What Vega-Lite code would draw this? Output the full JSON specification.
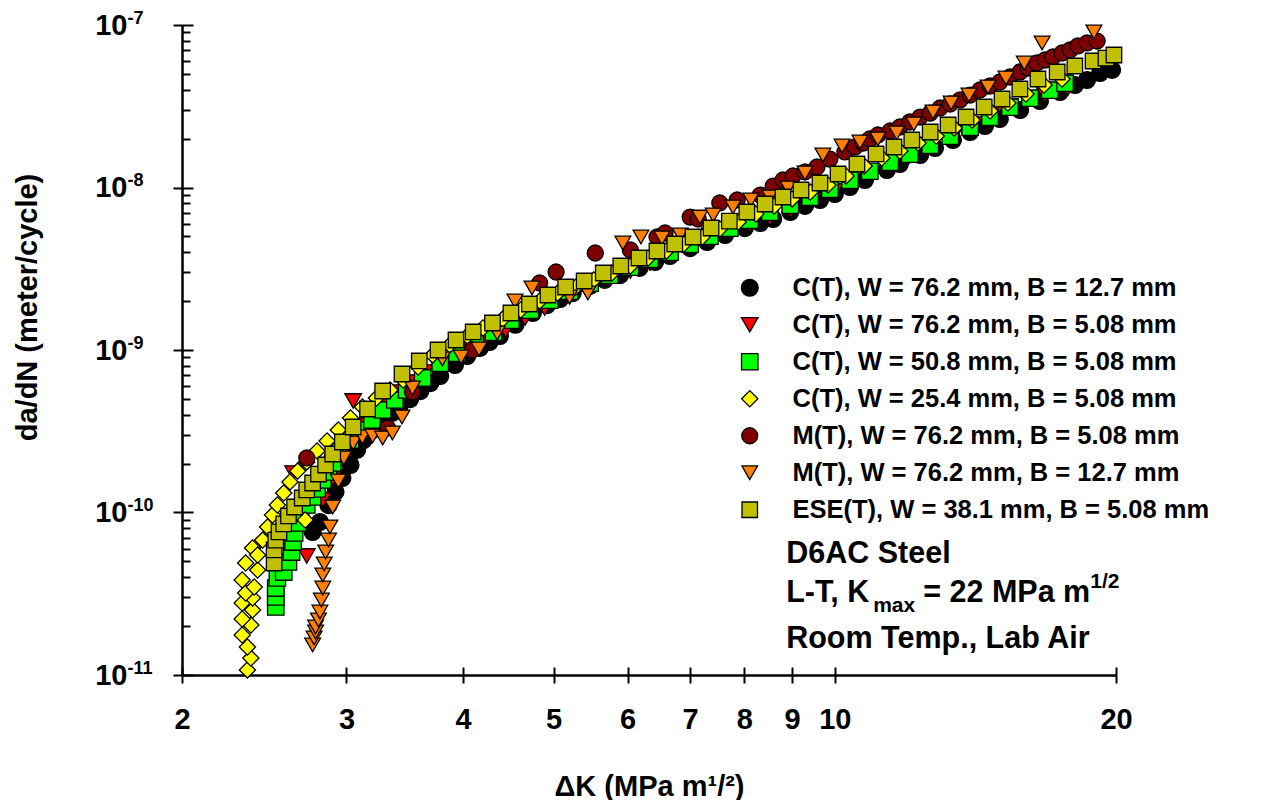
{
  "$schema": "https://vega.github.io/schema/vega-lite/v6.json",
  "width": 934,
  "height": 650,
  "autosize": {"type": "none"},
  "padding": {"left": 182, "top": 25, "right": 166, "bottom": 125},
  "background": "white",
  "config": {"view": {"stroke": null}, "font": "Liberation Sans"},
  "datasets": {
    "pts": [
      {"series": "C(T), W = 76.2 mm, B = 12.7 mm", "dK": 2.76, "dadN": 7.59e-11},
      {"series": "C(T), W = 76.2 mm, B = 12.7 mm", "dK": 2.81, "dadN": 8.74e-11},
      {"series": "C(T), W = 76.2 mm, B = 12.7 mm", "dK": 2.87, "dadN": 1.11e-10},
      {"series": "C(T), W = 76.2 mm, B = 12.7 mm", "dK": 2.92, "dadN": 1.34e-10},
      {"series": "C(T), W = 76.2 mm, B = 12.7 mm", "dK": 2.97, "dadN": 1.63e-10},
      {"series": "C(T), W = 76.2 mm, B = 12.7 mm", "dK": 3.03, "dadN": 1.96e-10},
      {"series": "C(T), W = 76.2 mm, B = 12.7 mm", "dK": 3.08, "dadN": 2.43e-10},
      {"series": "C(T), W = 76.2 mm, B = 12.7 mm", "dK": 3.13, "dadN": 2.79e-10},
      {"series": "C(T), W = 76.2 mm, B = 12.7 mm", "dK": 3.20, "dadN": 3.22e-10},
      {"series": "C(T), W = 76.2 mm, B = 12.7 mm", "dK": 3.28, "dadN": 3.61e-10},
      {"series": "C(T), W = 76.2 mm, B = 12.7 mm", "dK": 3.36, "dadN": 4.10e-10},
      {"series": "C(T), W = 76.2 mm, B = 12.7 mm", "dK": 3.42, "dadN": 4.52e-10},
      {"series": "C(T), W = 76.2 mm, B = 12.7 mm", "dK": 3.51, "dadN": 4.99e-10},
      {"series": "C(T), W = 76.2 mm, B = 12.7 mm", "dK": 3.60, "dadN": 5.59e-10},
      {"series": "C(T), W = 76.2 mm, B = 12.7 mm", "dK": 3.69, "dadN": 6.26e-10},
      {"series": "C(T), W = 76.2 mm, B = 12.7 mm", "dK": 3.78, "dadN": 6.92e-10},
      {"series": "C(T), W = 76.2 mm, B = 12.7 mm", "dK": 3.92, "dadN": 8.09e-10},
      {"series": "C(T), W = 76.2 mm, B = 12.7 mm", "dK": 4.04, "dadN": 9.19e-10},
      {"series": "C(T), W = 76.2 mm, B = 12.7 mm", "dK": 4.17, "dadN": 1.03e-9},
      {"series": "C(T), W = 76.2 mm, B = 12.7 mm", "dK": 4.27, "dadN": 1.12e-9},
      {"series": "C(T), W = 76.2 mm, B = 12.7 mm", "dK": 4.38, "dadN": 1.22e-9},
      {"series": "C(T), W = 76.2 mm, B = 12.7 mm", "dK": 4.55, "dadN": 1.43e-9},
      {"series": "C(T), W = 76.2 mm, B = 12.7 mm", "dK": 4.75, "dadN": 1.69e-9},
      {"series": "C(T), W = 76.2 mm, B = 12.7 mm", "dK": 4.92, "dadN": 1.89e-9},
      {"series": "C(T), W = 76.2 mm, B = 12.7 mm", "dK": 5.08, "dadN": 2.06e-9},
      {"series": "C(T), W = 76.2 mm, B = 12.7 mm", "dK": 5.24, "dadN": 2.24e-9},
      {"series": "C(T), W = 76.2 mm, B = 12.7 mm", "dK": 5.47, "dadN": 2.48e-9},
      {"series": "C(T), W = 76.2 mm, B = 12.7 mm", "dK": 5.67, "dadN": 2.70e-9},
      {"series": "C(T), W = 76.2 mm, B = 12.7 mm", "dK": 5.89, "dadN": 2.89e-9},
      {"series": "C(T), W = 76.2 mm, B = 12.7 mm", "dK": 6.18, "dadN": 3.20e-9},
      {"series": "C(T), W = 76.2 mm, B = 12.7 mm", "dK": 6.42, "dadN": 3.48e-9},
      {"series": "C(T), W = 76.2 mm, B = 12.7 mm", "dK": 6.66, "dadN": 3.79e-9},
      {"series": "C(T), W = 76.2 mm, B = 12.7 mm", "dK": 7.00, "dadN": 4.24e-9},
      {"series": "C(T), W = 76.2 mm, B = 12.7 mm", "dK": 7.30, "dadN": 4.62e-9},
      {"series": "C(T), W = 76.2 mm, B = 12.7 mm", "dK": 7.63, "dadN": 5.10e-9},
      {"series": "C(T), W = 76.2 mm, B = 12.7 mm", "dK": 8.01, "dadN": 5.63e-9},
      {"series": "C(T), W = 76.2 mm, B = 12.7 mm", "dK": 8.32, "dadN": 6.05e-9},
      {"series": "C(T), W = 76.2 mm, B = 12.7 mm", "dK": 8.59, "dadN": 6.40e-9},
      {"series": "C(T), W = 76.2 mm, B = 12.7 mm", "dK": 8.96, "dadN": 7.07e-9},
      {"series": "C(T), W = 76.2 mm, B = 12.7 mm", "dK": 9.29, "dadN": 7.70e-9},
      {"series": "C(T), W = 76.2 mm, B = 12.7 mm", "dK": 9.64, "dadN": 8.38e-9},
      {"series": "C(T), W = 76.2 mm, B = 12.7 mm", "dK": 10.0, "dadN": 9.12e-9},
      {"series": "C(T), W = 76.2 mm, B = 12.7 mm", "dK": 10.38, "dadN": 1.007e-8},
      {"series": "C(T), W = 76.2 mm, B = 12.7 mm", "dK": 10.77, "dadN": 1.112e-8},
      {"series": "C(T), W = 76.2 mm, B = 12.7 mm", "dK": 11.37, "dadN": 1.281e-8},
      {"series": "C(T), W = 76.2 mm, B = 12.7 mm", "dK": 11.74, "dadN": 1.395e-8},
      {"series": "C(T), W = 76.2 mm, B = 12.7 mm", "dK": 12.34, "dadN": 1.585e-8},
      {"series": "C(T), W = 76.2 mm, B = 12.7 mm", "dK": 12.80, "dadN": 1.750e-8},
      {"series": "C(T), W = 76.2 mm, B = 12.7 mm", "dK": 13.38, "dadN": 1.960e-8},
      {"series": "C(T), W = 76.2 mm, B = 12.7 mm", "dK": 13.96, "dadN": 2.195e-8},
      {"series": "C(T), W = 76.2 mm, B = 12.7 mm", "dK": 14.48, "dadN": 2.390e-8},
      {"series": "C(T), W = 76.2 mm, B = 12.7 mm", "dK": 15.02, "dadN": 2.640e-8},
      {"series": "C(T), W = 76.2 mm, B = 12.7 mm", "dK": 15.79, "dadN": 3.000e-8},
      {"series": "C(T), W = 76.2 mm, B = 12.7 mm", "dK": 16.58, "dadN": 3.407e-8},
      {"series": "C(T), W = 76.2 mm, B = 12.7 mm", "dK": 17.42, "dadN": 3.870e-8},
      {"series": "C(T), W = 76.2 mm, B = 12.7 mm", "dK": 18.08, "dadN": 4.274e-8},
      {"series": "C(T), W = 76.2 mm, B = 12.7 mm", "dK": 18.62, "dadN": 4.587e-8},
      {"series": "C(T), W = 76.2 mm, B = 12.7 mm", "dK": 19.23, "dadN": 5.066e-8},
      {"series": "C(T), W = 76.2 mm, B = 12.7 mm", "dK": 19.81, "dadN": 5.30e-8},

      {"series": "C(T), W = 76.2 mm, B = 5.08 mm", "dK": 2.72, "dadN": 5.40e-11},
      {"series": "C(T), W = 76.2 mm, B = 5.08 mm", "dK": 2.63, "dadN": 1.75e-10},
      {"series": "C(T), W = 76.2 mm, B = 5.08 mm", "dK": 2.83, "dadN": 1.194e-10},
      {"series": "C(T), W = 76.2 mm, B = 5.08 mm", "dK": 2.90, "dadN": 1.631e-10},
      {"series": "C(T), W = 76.2 mm, B = 5.08 mm", "dK": 2.97, "dadN": 2.227e-10},
      {"series": "C(T), W = 76.2 mm, B = 5.08 mm", "dK": 3.05, "dadN": 4.856e-10},
      {"series": "C(T), W = 76.2 mm, B = 5.08 mm", "dK": 3.14, "dadN": 3.455e-10},
      {"series": "C(T), W = 76.2 mm, B = 5.08 mm", "dK": 3.26, "dadN": 4.587e-10},
      {"series": "C(T), W = 76.2 mm, B = 5.08 mm", "dK": 3.38, "dadN": 5.514e-10},
      {"series": "C(T), W = 76.2 mm, B = 5.08 mm", "dK": 3.51, "dadN": 6.354e-10},
      {"series": "C(T), W = 76.2 mm, B = 5.08 mm", "dK": 3.64, "dadN": 7.32e-10},
      {"series": "C(T), W = 76.2 mm, B = 5.08 mm", "dK": 3.82, "dadN": 8.44e-10},
      {"series": "C(T), W = 76.2 mm, B = 5.08 mm", "dK": 4.02, "dadN": 1.0e-9},
      {"series": "C(T), W = 76.2 mm, B = 5.08 mm", "dK": 4.22, "dadN": 1.152e-9},
      {"series": "C(T), W = 76.2 mm, B = 5.08 mm", "dK": 4.44, "dadN": 1.327e-9},
      {"series": "C(T), W = 76.2 mm, B = 5.08 mm", "dK": 4.66, "dadN": 1.573e-9},
      {"series": "C(T), W = 76.2 mm, B = 5.08 mm", "dK": 4.89, "dadN": 1.813e-9},
      {"series": "C(T), W = 76.2 mm, B = 5.08 mm", "dK": 5.20, "dadN": 2.120e-9},
      {"series": "C(T), W = 76.2 mm, B = 5.08 mm", "dK": 5.47, "dadN": 2.407e-9},
      {"series": "C(T), W = 76.2 mm, B = 5.08 mm", "dK": 5.74, "dadN": 2.735e-9},
      {"series": "C(T), W = 76.2 mm, B = 5.08 mm", "dK": 6.04, "dadN": 3.064e-9},
      {"series": "C(T), W = 76.2 mm, B = 5.08 mm", "dK": 6.34, "dadN": 3.430e-9},
      {"series": "C(T), W = 76.2 mm, B = 5.08 mm", "dK": 6.66, "dadN": 3.842e-9},
      {"series": "C(T), W = 76.2 mm, B = 5.08 mm", "dK": 7.00, "dadN": 4.303e-9},
      {"series": "C(T), W = 76.2 mm, B = 5.08 mm", "dK": 7.32, "dadN": 4.752e-9},
      {"series": "C(T), W = 76.2 mm, B = 5.08 mm", "dK": 7.72, "dadN": 5.323e-9},
      {"series": "C(T), W = 76.2 mm, B = 5.08 mm", "dK": 8.11, "dadN": 5.88e-9},
      {"series": "C(T), W = 76.2 mm, B = 5.08 mm", "dK": 8.52, "dadN": 6.49e-9},
      {"series": "C(T), W = 76.2 mm, B = 5.08 mm", "dK": 8.96, "dadN": 7.27e-9},
      {"series": "C(T), W = 76.2 mm, B = 5.08 mm", "dK": 9.48, "dadN": 8.378e-9},
      {"series": "C(T), W = 76.2 mm, B = 5.08 mm", "dK": 10.0, "dadN": 9.52e-9},
      {"series": "C(T), W = 76.2 mm, B = 5.08 mm", "dK": 10.43, "dadN": 1.081e-8},
      {"series": "C(T), W = 76.2 mm, B = 5.08 mm", "dK": 10.90, "dadN": 1.228e-8},
      {"series": "C(T), W = 76.2 mm, B = 5.08 mm", "dK": 11.46, "dadN": 1.376e-8},
      {"series": "C(T), W = 76.2 mm, B = 5.08 mm", "dK": 12.03, "dadN": 1.562e-8},
      {"series": "C(T), W = 76.2 mm, B = 5.08 mm", "dK": 12.65, "dadN": 1.826e-8},
      {"series": "C(T), W = 76.2 mm, B = 5.08 mm", "dK": 13.45, "dadN": 2.165e-8},
      {"series": "C(T), W = 76.2 mm, B = 5.08 mm", "dK": 14.13, "dadN": 2.459e-8},
      {"series": "C(T), W = 76.2 mm, B = 5.08 mm", "dK": 14.84, "dadN": 2.873e-8},
      {"series": "C(T), W = 76.2 mm, B = 5.08 mm", "dK": 15.40, "dadN": 3.173e-8},
      {"series": "C(T), W = 76.2 mm, B = 5.08 mm", "dK": 16.06, "dadN": 3.504e-8},
      {"series": "C(T), W = 76.2 mm, B = 5.08 mm", "dK": 16.79, "dadN": 3.708e-8},
      {"series": "C(T), W = 76.2 mm, B = 5.08 mm", "dK": 17.77, "dadN": 4.096e-8},

      {"series": "C(T), W = 50.8 mm, B = 5.08 mm", "dK": 2.52, "dadN": 2.621e-11},
      {"series": "C(T), W = 50.8 mm, B = 5.08 mm", "dK": 2.52, "dadN": 3.020e-11},
      {"series": "C(T), W = 50.8 mm, B = 5.08 mm", "dK": 2.52, "dadN": 3.430e-11},
      {"series": "C(T), W = 50.8 mm, B = 5.08 mm", "dK": 2.53, "dadN": 3.953e-11},
      {"series": "C(T), W = 50.8 mm, B = 5.08 mm", "dK": 2.57, "dadN": 4.303e-11},
      {"series": "C(T), W = 50.8 mm, B = 5.08 mm", "dK": 2.60, "dadN": 4.959e-11},
      {"series": "C(T), W = 50.8 mm, B = 5.08 mm", "dK": 2.62, "dadN": 5.713e-11},
      {"series": "C(T), W = 50.8 mm, B = 5.08 mm", "dK": 2.63, "dadN": 6.58e-11},
      {"series": "C(T), W = 50.8 mm, B = 5.08 mm", "dK": 2.64, "dadN": 7.48e-11},
      {"series": "C(T), W = 50.8 mm, B = 5.08 mm", "dK": 2.66, "dadN": 8.62e-11},
      {"series": "C(T), W = 50.8 mm, B = 5.08 mm", "dK": 2.68, "dadN": 9.93e-11},
      {"series": "C(T), W = 50.8 mm, B = 5.08 mm", "dK": 2.72, "dadN": 1.112e-10},
      {"series": "C(T), W = 50.8 mm, B = 5.08 mm", "dK": 2.76, "dadN": 1.246e-10},
      {"series": "C(T), W = 50.8 mm, B = 5.08 mm", "dK": 2.79, "dadN": 1.395e-10},
      {"series": "C(T), W = 50.8 mm, B = 5.08 mm", "dK": 2.83, "dadN": 1.585e-10},
      {"series": "C(T), W = 50.8 mm, B = 5.08 mm", "dK": 2.87, "dadN": 1.775e-10},
      {"series": "C(T), W = 50.8 mm, B = 5.08 mm", "dK": 2.90, "dadN": 2.017e-10},
      {"series": "C(T), W = 50.8 mm, B = 5.08 mm", "dK": 2.95, "dadN": 2.357e-10},
      {"series": "C(T), W = 50.8 mm, B = 5.08 mm", "dK": 3.03, "dadN": 2.794e-10},
      {"series": "C(T), W = 50.8 mm, B = 5.08 mm", "dK": 3.10, "dadN": 3.219e-10},
      {"series": "C(T), W = 50.8 mm, B = 5.08 mm", "dK": 3.195, "dadN": 3.708e-10},
      {"series": "C(T), W = 50.8 mm, B = 5.08 mm", "dK": 3.28, "dadN": 4.274e-10},
      {"series": "C(T), W = 50.8 mm, B = 5.08 mm", "dK": 3.38, "dadN": 4.924e-10},
      {"series": "C(T), W = 50.8 mm, B = 5.08 mm", "dK": 3.48, "dadN": 5.673e-10},
      {"series": "C(T), W = 50.8 mm, B = 5.08 mm", "dK": 3.62, "dadN": 6.725e-10},
      {"series": "C(T), W = 50.8 mm, B = 5.08 mm", "dK": 3.78, "dadN": 8.29e-10},
      {"series": "C(T), W = 50.8 mm, B = 5.08 mm", "dK": 3.94, "dadN": 9.56e-10},
      {"series": "C(T), W = 50.8 mm, B = 5.08 mm", "dK": 4.12, "dadN": 1.101e-9},
      {"series": "C(T), W = 50.8 mm, B = 5.08 mm", "dK": 4.31, "dadN": 1.286e-9},
      {"series": "C(T), W = 50.8 mm, B = 5.08 mm", "dK": 4.50, "dadN": 1.525e-9},
      {"series": "C(T), W = 50.8 mm, B = 5.08 mm", "dK": 4.72, "dadN": 1.757e-9},
      {"series": "C(T), W = 50.8 mm, B = 5.08 mm", "dK": 4.95, "dadN": 2.024e-9},
      {"series": "C(T), W = 50.8 mm, B = 5.08 mm", "dK": 5.20, "dadN": 2.299e-9},
      {"series": "C(T), W = 50.8 mm, B = 5.08 mm", "dK": 5.47, "dadN": 2.575e-9},
      {"series": "C(T), W = 50.8 mm, B = 5.08 mm", "dK": 5.74, "dadN": 2.886e-9},
      {"series": "C(T), W = 50.8 mm, B = 5.08 mm", "dK": 6.04, "dadN": 3.231e-9},
      {"series": "C(T), W = 50.8 mm, B = 5.08 mm", "dK": 6.34, "dadN": 3.619e-9},
      {"series": "C(T), W = 50.8 mm, B = 5.08 mm", "dK": 6.66, "dadN": 3.996e-9},
      {"series": "C(T), W = 50.8 mm, B = 5.08 mm", "dK": 7.00, "dadN": 4.476e-9},
      {"series": "C(T), W = 50.8 mm, B = 5.08 mm", "dK": 7.35, "dadN": 5.014e-9},
      {"series": "C(T), W = 50.8 mm, B = 5.08 mm", "dK": 7.72, "dadN": 5.615e-9},
      {"series": "C(T), W = 50.8 mm, B = 5.08 mm", "dK": 8.11, "dadN": 6.29e-9},
      {"series": "C(T), W = 50.8 mm, B = 5.08 mm", "dK": 8.52, "dadN": 7.04e-9},
      {"series": "C(T), W = 50.8 mm, B = 5.08 mm", "dK": 8.96, "dadN": 7.78e-9},
      {"series": "C(T), W = 50.8 mm, B = 5.08 mm", "dK": 9.41, "dadN": 8.72e-9},
      {"series": "C(T), W = 50.8 mm, B = 5.08 mm", "dK": 9.88, "dadN": 9.76e-9},
      {"series": "C(T), W = 50.8 mm, B = 5.08 mm", "dK": 10.38, "dadN": 1.109e-8},
      {"series": "C(T), W = 50.8 mm, B = 5.08 mm", "dK": 10.90, "dadN": 1.259e-8},
      {"series": "C(T), W = 50.8 mm, B = 5.08 mm", "dK": 11.46, "dadN": 1.431e-8},
      {"series": "C(T), W = 50.8 mm, B = 5.08 mm", "dK": 12.03, "dadN": 1.602e-8},
      {"series": "C(T), W = 50.8 mm, B = 5.08 mm", "dK": 12.65, "dadN": 1.819e-8},
      {"series": "C(T), W = 50.8 mm, B = 5.08 mm", "dK": 13.29, "dadN": 2.068e-8},
      {"series": "C(T), W = 50.8 mm, B = 5.08 mm", "dK": 13.96, "dadN": 2.349e-8},
      {"series": "C(T), W = 50.8 mm, B = 5.08 mm", "dK": 14.66, "dadN": 2.707e-8},
      {"series": "C(T), W = 50.8 mm, B = 5.08 mm", "dK": 15.40, "dadN": 3.119e-8},
      {"series": "C(T), W = 50.8 mm, B = 5.08 mm", "dK": 16.18, "dadN": 3.543e-8},
      {"series": "C(T), W = 50.8 mm, B = 5.08 mm", "dK": 16.99, "dadN": 3.968e-8},
      {"series": "C(T), W = 50.8 mm, B = 5.08 mm", "dK": 17.64, "dadN": 4.383e-8},

      {"series": "C(T), W = 25.4 mm, B = 5.08 mm", "dK": 2.35, "dadN": 1.074e-11},
      {"series": "C(T), W = 25.4 mm, B = 5.08 mm", "dK": 2.37, "dadN": 1.272e-11},
      {"series": "C(T), W = 25.4 mm, B = 5.08 mm", "dK": 2.35, "dadN": 1.487e-11},
      {"series": "C(T), W = 25.4 mm, B = 5.08 mm", "dK": 2.32, "dadN": 1.763e-11},
      {"series": "C(T), W = 25.4 mm, B = 5.08 mm", "dK": 2.37, "dadN": 2.031e-11},
      {"series": "C(T), W = 25.4 mm, B = 5.08 mm", "dK": 2.32, "dadN": 2.211e-11},
      {"series": "C(T), W = 25.4 mm, B = 5.08 mm", "dK": 2.38, "dadN": 2.512e-11},
      {"series": "C(T), W = 25.4 mm, B = 5.08 mm", "dK": 2.32, "dadN": 2.774e-11},
      {"series": "C(T), W = 25.4 mm, B = 5.08 mm", "dK": 2.38, "dadN": 2.977e-11},
      {"series": "C(T), W = 25.4 mm, B = 5.08 mm", "dK": 2.34, "dadN": 3.196e-11},
      {"series": "C(T), W = 25.4 mm, B = 5.08 mm", "dK": 2.32, "dadN": 3.842e-11},
      {"series": "C(T), W = 25.4 mm, B = 5.08 mm", "dK": 2.39, "dadN": 3.479e-11},
      {"series": "C(T), W = 25.4 mm, B = 5.08 mm", "dK": 2.34, "dadN": 4.89e-11},
      {"series": "C(T), W = 25.4 mm, B = 5.08 mm", "dK": 2.41, "dadN": 4.428e-11},
      {"series": "C(T), W = 25.4 mm, B = 5.08 mm", "dK": 2.38, "dadN": 6.046e-11},
      {"series": "C(T), W = 25.4 mm, B = 5.08 mm", "dK": 2.41, "dadN": 5.477e-11},
      {"series": "C(T), W = 25.4 mm, B = 5.08 mm", "dK": 2.44, "dadN": 6.77e-11},
      {"series": "C(T), W = 25.4 mm, B = 5.08 mm", "dK": 2.47, "dadN": 8.15e-11},
      {"series": "C(T), W = 25.4 mm, B = 5.08 mm", "dK": 2.50, "dadN": 9.65e-11},
      {"series": "C(T), W = 25.4 mm, B = 5.08 mm", "dK": 2.53, "dadN": 1.112e-10},
      {"series": "C(T), W = 25.4 mm, B = 5.08 mm", "dK": 2.57, "dadN": 1.318e-10},
      {"series": "C(T), W = 25.4 mm, B = 5.08 mm", "dK": 2.61, "dadN": 1.541e-10},
      {"series": "C(T), W = 25.4 mm, B = 5.08 mm", "dK": 2.66, "dadN": 1.800e-10},
      {"series": "C(T), W = 25.4 mm, B = 5.08 mm", "dK": 2.71, "dadN": 8.99e-11},
      {"series": "C(T), W = 25.4 mm, B = 5.08 mm", "dK": 2.72, "dadN": 2.046e-10},
      {"series": "C(T), W = 25.4 mm, B = 5.08 mm", "dK": 2.79, "dadN": 2.390e-10},
      {"series": "C(T), W = 25.4 mm, B = 5.08 mm", "dK": 2.86, "dadN": 2.754e-10},
      {"series": "C(T), W = 25.4 mm, B = 5.08 mm", "dK": 2.94, "dadN": 3.219e-10},
      {"series": "C(T), W = 25.4 mm, B = 5.08 mm", "dK": 3.03, "dadN": 3.815e-10},
      {"series": "C(T), W = 25.4 mm, B = 5.08 mm", "dK": 3.12, "dadN": 4.459e-10},
      {"series": "C(T), W = 25.4 mm, B = 5.08 mm", "dK": 3.23, "dadN": 5.066e-10},
      {"series": "C(T), W = 25.4 mm, B = 5.08 mm", "dK": 3.34, "dadN": 5.673e-10},
      {"series": "C(T), W = 25.4 mm, B = 5.08 mm", "dK": 3.45, "dadN": 6.538e-10},
      {"series": "C(T), W = 25.4 mm, B = 5.08 mm", "dK": 3.58, "dadN": 7.86e-10},
      {"series": "C(T), W = 25.4 mm, B = 5.08 mm", "dK": 3.71, "dadN": 9.32e-10},
      {"series": "C(T), W = 25.4 mm, B = 5.08 mm", "dK": 3.87, "dadN": 1.074e-9},
      {"series": "C(T), W = 25.4 mm, B = 5.08 mm", "dK": 4.04, "dadN": 1.220e-9},
      {"series": "C(T), W = 25.4 mm, B = 5.08 mm", "dK": 4.20, "dadN": 1.366e-9},
      {"series": "C(T), W = 25.4 mm, B = 5.08 mm", "dK": 4.41, "dadN": 1.551e-9},
      {"series": "C(T), W = 25.4 mm, B = 5.08 mm", "dK": 4.61, "dadN": 1.763e-9},
      {"series": "C(T), W = 25.4 mm, B = 5.08 mm", "dK": 4.83, "dadN": 2.002e-9},
      {"series": "C(T), W = 25.4 mm, B = 5.08 mm", "dK": 5.05, "dadN": 2.243e-9},
      {"series": "C(T), W = 25.4 mm, B = 5.08 mm", "dK": 5.28, "dadN": 2.441e-9},
      {"series": "C(T), W = 25.4 mm, B = 5.08 mm", "dK": 5.52, "dadN": 2.697e-9},
      {"series": "C(T), W = 25.4 mm, B = 5.08 mm", "dK": 5.77, "dadN": 2.977e-9},
      {"series": "C(T), W = 25.4 mm, B = 5.08 mm", "dK": 6.04, "dadN": 3.288e-9},
      {"series": "C(T), W = 25.4 mm, B = 5.08 mm", "dK": 6.31, "dadN": 3.683e-9},
      {"series": "C(T), W = 25.4 mm, B = 5.08 mm", "dK": 6.60, "dadN": 4.067e-9},
      {"series": "C(T), W = 25.4 mm, B = 5.08 mm", "dK": 6.89, "dadN": 4.490e-9},
      {"series": "C(T), W = 25.4 mm, B = 5.08 mm", "dK": 7.21, "dadN": 4.959e-9},
      {"series": "C(T), W = 25.4 mm, B = 5.08 mm", "dK": 7.53, "dadN": 5.553e-9},
      {"series": "C(T), W = 25.4 mm, B = 5.08 mm", "dK": 7.88, "dadN": 6.133e-9},
      {"series": "C(T), W = 25.4 mm, B = 5.08 mm", "dK": 8.23, "dadN": 6.87e-9},
      {"series": "C(T), W = 25.4 mm, B = 5.08 mm", "dK": 8.61, "dadN": 7.695e-9},
      {"series": "C(T), W = 25.4 mm, B = 5.08 mm", "dK": 9.00, "dadN": 8.50e-9},
      {"series": "C(T), W = 25.4 mm, B = 5.08 mm", "dK": 9.41, "dadN": 9.38e-9},
      {"series": "C(T), W = 25.4 mm, B = 5.08 mm", "dK": 9.83, "dadN": 1.036e-8},
      {"series": "C(T), W = 25.4 mm, B = 5.08 mm", "dK": 10.28, "dadN": 1.177e-8},
      {"series": "C(T), W = 25.4 mm, B = 5.08 mm", "dK": 10.75, "dadN": 1.356e-8},
      {"series": "C(T), W = 25.4 mm, B = 5.08 mm", "dK": 11.23, "dadN": 1.519e-8},
      {"series": "C(T), W = 25.4 mm, B = 5.08 mm", "dK": 11.74, "dadN": 1.677e-8},
      {"series": "C(T), W = 25.4 mm, B = 5.08 mm", "dK": 12.28, "dadN": 1.878e-8},
      {"series": "C(T), W = 25.4 mm, B = 5.08 mm", "dK": 12.84, "dadN": 2.075e-8},
      {"series": "C(T), W = 25.4 mm, B = 5.08 mm", "dK": 13.42, "dadN": 2.324e-8},
      {"series": "C(T), W = 25.4 mm, B = 5.08 mm", "dK": 14.03, "dadN": 2.603e-8},
      {"series": "C(T), W = 25.4 mm, B = 5.08 mm", "dK": 14.66, "dadN": 2.957e-8},
      {"series": "C(T), W = 25.4 mm, B = 5.08 mm", "dK": 15.32, "dadN": 3.311e-8},
      {"series": "C(T), W = 25.4 mm, B = 5.08 mm", "dK": 16.02, "dadN": 3.762e-8},
      {"series": "C(T), W = 25.4 mm, B = 5.08 mm", "dK": 16.75, "dadN": 4.274e-8},
      {"series": "C(T), W = 25.4 mm, B = 5.08 mm", "dK": 17.51, "dadN": 4.653e-8},

      {"series": "M(T), W = 76.2 mm, B = 5.08 mm", "dK": 2.72, "dadN": 2.165e-10},
      {"series": "M(T), W = 76.2 mm, B = 5.08 mm", "dK": 3.32, "dadN": 3.311e-10},
      {"series": "M(T), W = 76.2 mm, B = 5.08 mm", "dK": 3.53, "dadN": 5.514e-10},
      {"series": "M(T), W = 76.2 mm, B = 5.08 mm", "dK": 4.09, "dadN": 1.0e-9},
      {"series": "M(T), W = 76.2 mm, B = 5.08 mm", "dK": 4.83, "dadN": 2.584e-9},
      {"series": "M(T), W = 76.2 mm, B = 5.08 mm", "dK": 5.03, "dadN": 3.020e-9},
      {"series": "M(T), W = 76.2 mm, B = 5.08 mm", "dK": 5.54, "dadN": 3.953e-9},
      {"series": "M(T), W = 76.2 mm, B = 5.08 mm", "dK": 6.04, "dadN": 4.125e-9},
      {"series": "M(T), W = 76.2 mm, B = 5.08 mm", "dK": 6.45, "dadN": 4.959e-9},
      {"series": "M(T), W = 76.2 mm, B = 5.08 mm", "dK": 6.58, "dadN": 5.248e-9},
      {"series": "M(T), W = 76.2 mm, B = 5.08 mm", "dK": 7.00, "dadN": 6.58e-9},
      {"series": "M(T), W = 76.2 mm, B = 5.08 mm", "dK": 7.14, "dadN": 6.40e-9},
      {"series": "M(T), W = 76.2 mm, B = 5.08 mm", "dK": 7.53, "dadN": 8.03e-9},
      {"series": "M(T), W = 76.2 mm, B = 5.08 mm", "dK": 7.86, "dadN": 8.378e-9},
      {"series": "M(T), W = 76.2 mm, B = 5.08 mm", "dK": 8.32, "dadN": 8.99e-9},
      {"series": "M(T), W = 76.2 mm, B = 5.08 mm", "dK": 8.59, "dadN": 1.021e-8},
      {"series": "M(T), W = 76.2 mm, B = 5.08 mm", "dK": 8.80, "dadN": 1.112e-8},
      {"series": "M(T), W = 76.2 mm, B = 5.08 mm", "dK": 9.02, "dadN": 1.177e-8},
      {"series": "M(T), W = 76.2 mm, B = 5.08 mm", "dK": 9.29, "dadN": 1.246e-8},
      {"series": "M(T), W = 76.2 mm, B = 5.08 mm", "dK": 9.57, "dadN": 1.337e-8},
      {"series": "M(T), W = 76.2 mm, B = 5.08 mm", "dK": 9.88, "dadN": 1.497e-8},
      {"series": "M(T), W = 76.2 mm, B = 5.08 mm", "dK": 10.25, "dadN": 1.654e-8},
      {"series": "M(T), W = 76.2 mm, B = 5.08 mm", "dK": 10.51, "dadN": 1.775e-8},
      {"series": "M(T), W = 76.2 mm, B = 5.08 mm", "dK": 10.72, "dadN": 1.878e-8},
      {"series": "M(T), W = 76.2 mm, B = 5.08 mm", "dK": 10.90, "dadN": 1.988e-8},
      {"series": "M(T), W = 76.2 mm, B = 5.08 mm", "dK": 11.12, "dadN": 2.104e-8},
      {"series": "M(T), W = 76.2 mm, B = 5.08 mm", "dK": 11.46, "dadN": 2.227e-8},
      {"series": "M(T), W = 76.2 mm, B = 5.08 mm", "dK": 11.74, "dadN": 2.357e-8},
      {"series": "M(T), W = 76.2 mm, B = 5.08 mm", "dK": 12.03, "dadN": 2.530e-8},
      {"series": "M(T), W = 76.2 mm, B = 5.08 mm", "dK": 12.34, "dadN": 2.715e-8},
      {"series": "M(T), W = 76.2 mm, B = 5.08 mm", "dK": 12.65, "dadN": 2.873e-8},
      {"series": "M(T), W = 76.2 mm, B = 5.08 mm", "dK": 12.96, "dadN": 3.085e-8},
      {"series": "M(T), W = 76.2 mm, B = 5.08 mm", "dK": 13.29, "dadN": 3.265e-8},
      {"series": "M(T), W = 76.2 mm, B = 5.08 mm", "dK": 13.62, "dadN": 3.459e-8},
      {"series": "M(T), W = 76.2 mm, B = 5.08 mm", "dK": 13.96, "dadN": 3.708e-8},
      {"series": "M(T), W = 76.2 mm, B = 5.08 mm", "dK": 14.30, "dadN": 3.981e-8},
      {"series": "M(T), W = 76.2 mm, B = 5.08 mm", "dK": 14.66, "dadN": 4.213e-8},
      {"series": "M(T), W = 76.2 mm, B = 5.08 mm", "dK": 15.02, "dadN": 4.459e-8},
      {"series": "M(T), W = 76.2 mm, B = 5.08 mm", "dK": 15.40, "dadN": 4.786e-8},
      {"series": "M(T), W = 76.2 mm, B = 5.08 mm", "dK": 15.79, "dadN": 5.138e-8},
      {"series": "M(T), W = 76.2 mm, B = 5.08 mm", "dK": 16.10, "dadN": 5.438e-8},
      {"series": "M(T), W = 76.2 mm, B = 5.08 mm", "dK": 16.46, "dadN": 5.84e-8},
      {"series": "M(T), W = 76.2 mm, B = 5.08 mm", "dK": 16.79, "dadN": 6.09e-8},
      {"series": "M(T), W = 76.2 mm, B = 5.08 mm", "dK": 17.12, "dadN": 6.354e-8},
      {"series": "M(T), W = 76.2 mm, B = 5.08 mm", "dK": 17.51, "dadN": 6.725e-8},
      {"series": "M(T), W = 76.2 mm, B = 5.08 mm", "dK": 17.86, "dadN": 7.02e-8},
      {"series": "M(T), W = 76.2 mm, B = 5.08 mm", "dK": 18.21, "dadN": 7.43e-8},
      {"series": "M(T), W = 76.2 mm, B = 5.08 mm", "dK": 18.62, "dadN": 7.75e-8},
      {"series": "M(T), W = 76.2 mm, B = 5.08 mm", "dK": 19.09, "dadN": 7.97e-8},

      {"series": "M(T), W = 76.2 mm, B = 12.7 mm", "dK": 2.76, "dadN": 1.530e-11},
      {"series": "M(T), W = 76.2 mm, B = 12.7 mm", "dK": 2.77, "dadN": 1.689e-11},
      {"series": "M(T), W = 76.2 mm, B = 12.7 mm", "dK": 2.78, "dadN": 1.839e-11},
      {"series": "M(T), W = 76.2 mm, B = 12.7 mm", "dK": 2.78, "dadN": 1.974e-11},
      {"series": "M(T), W = 76.2 mm, B = 12.7 mm", "dK": 2.80, "dadN": 2.180e-11},
      {"series": "M(T), W = 76.2 mm, B = 12.7 mm", "dK": 2.81, "dadN": 2.441e-11},
      {"series": "M(T), W = 76.2 mm, B = 12.7 mm", "dK": 2.82, "dadN": 2.893e-11},
      {"series": "M(T), W = 76.2 mm, B = 12.7 mm", "dK": 2.83, "dadN": 3.430e-11},
      {"series": "M(T), W = 76.2 mm, B = 12.7 mm", "dK": 2.83, "dadN": 4.125e-11},
      {"series": "M(T), W = 76.2 mm, B = 12.7 mm", "dK": 2.84, "dadN": 4.823e-11},
      {"series": "M(T), W = 76.2 mm, B = 12.7 mm", "dK": 2.85, "dadN": 5.713e-11},
      {"series": "M(T), W = 76.2 mm, B = 12.7 mm", "dK": 2.87, "dadN": 6.77e-11},
      {"series": "M(T), W = 76.2 mm, B = 12.7 mm", "dK": 2.88, "dadN": 8.15e-11},
      {"series": "M(T), W = 76.2 mm, B = 12.7 mm", "dK": 2.90, "dadN": 1.081e-10},
      {"series": "M(T), W = 76.2 mm, B = 12.7 mm", "dK": 2.94, "dadN": 1.562e-10},
      {"series": "M(T), W = 76.2 mm, B = 12.7 mm", "dK": 2.98, "dadN": 2.165e-10},
      {"series": "M(T), W = 76.2 mm, B = 12.7 mm", "dK": 3.05, "dadN": 2.677e-10},
      {"series": "M(T), W = 76.2 mm, B = 12.7 mm", "dK": 3.12, "dadN": 2.915e-10},
      {"series": "M(T), W = 76.2 mm, B = 12.7 mm", "dK": 3.20, "dadN": 2.957e-10},
      {"series": "M(T), W = 76.2 mm, B = 12.7 mm", "dK": 3.28, "dadN": 2.873e-10},
      {"series": "M(T), W = 76.2 mm, B = 12.7 mm", "dK": 3.36, "dadN": 3.085e-10},
      {"series": "M(T), W = 76.2 mm, B = 12.7 mm", "dK": 3.44, "dadN": 3.870e-10},
      {"series": "M(T), W = 76.2 mm, B = 12.7 mm", "dK": 3.53, "dadN": 5.84e-10},
      {"series": "M(T), W = 76.2 mm, B = 12.7 mm", "dK": 3.80, "dadN": 8.80e-10},
      {"series": "M(T), W = 76.2 mm, B = 12.7 mm", "dK": 3.98, "dadN": 9.06e-10},
      {"series": "M(T), W = 76.2 mm, B = 12.7 mm", "dK": 4.16, "dadN": 1.014e-9},
      {"series": "M(T), W = 76.2 mm, B = 12.7 mm", "dK": 4.35, "dadN": 1.272e-9},
      {"series": "M(T), W = 76.2 mm, B = 12.7 mm", "dK": 4.545, "dadN": 2.002e-9},
      {"series": "M(T), W = 76.2 mm, B = 12.7 mm", "dK": 4.74, "dadN": 2.407e-9},
      {"series": "M(T), W = 76.2 mm, B = 12.7 mm", "dK": 5.20, "dadN": 2.120e-9},
      {"series": "M(T), W = 76.2 mm, B = 12.7 mm", "dK": 5.44, "dadN": 2.243e-9},
      {"series": "M(T), W = 76.2 mm, B = 12.7 mm", "dK": 5.93, "dadN": 4.555e-9},
      {"series": "M(T), W = 76.2 mm, B = 12.7 mm", "dK": 6.20, "dadN": 4.959e-9},
      {"series": "M(T), W = 76.2 mm, B = 12.7 mm", "dK": 6.53, "dadN": 4.89e-9},
      {"series": "M(T), W = 76.2 mm, B = 12.7 mm", "dK": 6.83, "dadN": 5.101e-9},
      {"series": "M(T), W = 76.2 mm, B = 12.7 mm", "dK": 7.17, "dadN": 6.58e-9},
      {"series": "M(T), W = 76.2 mm, B = 12.7 mm", "dK": 7.41, "dadN": 6.77e-9},
      {"series": "M(T), W = 76.2 mm, B = 12.7 mm", "dK": 7.78, "dadN": 7.586e-9},
      {"series": "M(T), W = 76.2 mm, B = 12.7 mm", "dK": 8.13, "dadN": 8.378e-9},
      {"series": "M(T), W = 76.2 mm, B = 12.7 mm", "dK": 8.52, "dadN": 8.74e-9},
      {"series": "M(T), W = 76.2 mm, B = 12.7 mm", "dK": 8.91, "dadN": 9.93e-9},
      {"series": "M(T), W = 76.2 mm, B = 12.7 mm", "dK": 9.29, "dadN": 1.228e-8},
      {"series": "M(T), W = 76.2 mm, B = 12.7 mm", "dK": 9.71, "dadN": 1.585e-8},
      {"series": "M(T), W = 76.2 mm, B = 12.7 mm", "dK": 10.18, "dadN": 1.800e-8},
      {"series": "M(T), W = 76.2 mm, B = 12.7 mm", "dK": 10.64, "dadN": 1.905e-8},
      {"series": "M(T), W = 76.2 mm, B = 12.7 mm", "dK": 11.12, "dadN": 1.988e-8},
      {"series": "M(T), W = 76.2 mm, B = 12.7 mm", "dK": 11.65, "dadN": 2.165e-8},
      {"series": "M(T), W = 76.2 mm, B = 12.7 mm", "dK": 12.15, "dadN": 2.459e-8},
      {"series": "M(T), W = 76.2 mm, B = 12.7 mm", "dK": 12.74, "dadN": 2.915e-8},
      {"series": "M(T), W = 76.2 mm, B = 12.7 mm", "dK": 13.32, "dadN": 3.311e-8},
      {"series": "M(T), W = 76.2 mm, B = 12.7 mm", "dK": 13.92, "dadN": 3.708e-8},
      {"series": "M(T), W = 76.2 mm, B = 12.7 mm", "dK": 14.59, "dadN": 4.154e-8},
      {"series": "M(T), W = 76.2 mm, B = 12.7 mm", "dK": 15.25, "dadN": 4.718e-8},
      {"series": "M(T), W = 76.2 mm, B = 12.7 mm", "dK": 15.95, "dadN": 5.84e-8},
      {"series": "M(T), W = 76.2 mm, B = 12.7 mm", "dK": 16.67, "dadN": 7.75e-8},
      {"series": "M(T), W = 76.2 mm, B = 12.7 mm", "dK": 18.94, "dadN": 9.06e-8},

      {"series": "ESE(T), W = 38.1 mm, B = 5.08 mm", "dK": 2.51, "dadN": 4.89e-11},
      {"series": "ESE(T), W = 38.1 mm, B = 5.08 mm", "dK": 2.51, "dadN": 5.88e-11},
      {"series": "ESE(T), W = 38.1 mm, B = 5.08 mm", "dK": 2.52, "dadN": 6.77e-11},
      {"series": "ESE(T), W = 38.1 mm, B = 5.08 mm", "dK": 2.54, "dadN": 7.59e-11},
      {"series": "ESE(T), W = 38.1 mm, B = 5.08 mm", "dK": 2.57, "dadN": 8.50e-11},
      {"series": "ESE(T), W = 38.1 mm, B = 5.08 mm", "dK": 2.60, "dadN": 9.52e-11},
      {"series": "ESE(T), W = 38.1 mm, B = 5.08 mm", "dK": 2.64, "dadN": 1.081e-10},
      {"series": "ESE(T), W = 38.1 mm, B = 5.08 mm", "dK": 2.69, "dadN": 1.228e-10},
      {"series": "ESE(T), W = 38.1 mm, B = 5.08 mm", "dK": 2.72, "dadN": 1.376e-10},
      {"series": "ESE(T), W = 38.1 mm, B = 5.08 mm", "dK": 2.76, "dadN": 1.519e-10},
      {"series": "ESE(T), W = 38.1 mm, B = 5.08 mm", "dK": 2.80, "dadN": 1.725e-10},
      {"series": "ESE(T), W = 38.1 mm, B = 5.08 mm", "dK": 2.85, "dadN": 1.960e-10},
      {"series": "ESE(T), W = 38.1 mm, B = 5.08 mm", "dK": 2.90, "dadN": 2.291e-10},
      {"series": "ESE(T), W = 38.1 mm, B = 5.08 mm", "dK": 2.97, "dadN": 2.715e-10},
      {"series": "ESE(T), W = 38.1 mm, B = 5.08 mm", "dK": 3.05, "dadN": 3.359e-10},
      {"series": "ESE(T), W = 38.1 mm, B = 5.08 mm", "dK": 3.16, "dadN": 4.335e-10},
      {"series": "ESE(T), W = 38.1 mm, B = 5.08 mm", "dK": 3.28, "dadN": 5.593e-10},
      {"series": "ESE(T), W = 38.1 mm, B = 5.08 mm", "dK": 3.44, "dadN": 7.117e-10},
      {"series": "ESE(T), W = 38.1 mm, B = 5.08 mm", "dK": 3.59, "dadN": 8.56e-10},
      {"series": "ESE(T), W = 38.1 mm, B = 5.08 mm", "dK": 3.76, "dadN": 1.0e-9},
      {"series": "ESE(T), W = 38.1 mm, B = 5.08 mm", "dK": 3.93, "dadN": 1.152e-9},
      {"series": "ESE(T), W = 38.1 mm, B = 5.08 mm", "dK": 4.10, "dadN": 1.291e-9},
      {"series": "ESE(T), W = 38.1 mm, B = 5.08 mm", "dK": 4.30, "dadN": 1.466e-9},
      {"series": "ESE(T), W = 38.1 mm, B = 5.08 mm", "dK": 4.50, "dadN": 1.689e-9},
      {"series": "ESE(T), W = 38.1 mm, B = 5.08 mm", "dK": 4.71, "dadN": 1.919e-9},
      {"series": "ESE(T), W = 38.1 mm, B = 5.08 mm", "dK": 4.93, "dadN": 2.180e-9},
      {"series": "ESE(T), W = 38.1 mm, B = 5.08 mm", "dK": 5.15, "dadN": 2.441e-9},
      {"series": "ESE(T), W = 38.1 mm, B = 5.08 mm", "dK": 5.39, "dadN": 2.658e-9},
      {"series": "ESE(T), W = 38.1 mm, B = 5.08 mm", "dK": 5.65, "dadN": 2.977e-9},
      {"series": "ESE(T), W = 38.1 mm, B = 5.08 mm", "dK": 5.90, "dadN": 3.288e-9},
      {"series": "ESE(T), W = 38.1 mm, B = 5.08 mm", "dK": 6.17, "dadN": 3.683e-9},
      {"series": "ESE(T), W = 38.1 mm, B = 5.08 mm", "dK": 6.45, "dadN": 4.067e-9},
      {"series": "ESE(T), W = 38.1 mm, B = 5.08 mm", "dK": 6.74, "dadN": 4.490e-9},
      {"series": "ESE(T), W = 38.1 mm, B = 5.08 mm", "dK": 7.05, "dadN": 4.959e-9},
      {"series": "ESE(T), W = 38.1 mm, B = 5.08 mm", "dK": 7.37, "dadN": 5.634e-9},
      {"series": "ESE(T), W = 38.1 mm, B = 5.08 mm", "dK": 7.71, "dadN": 6.218e-9},
      {"series": "ESE(T), W = 38.1 mm, B = 5.08 mm", "dK": 8.05, "dadN": 7.067e-9},
      {"series": "ESE(T), W = 38.1 mm, B = 5.08 mm", "dK": 8.42, "dadN": 7.916e-9},
      {"series": "ESE(T), W = 38.1 mm, B = 5.08 mm", "dK": 8.80, "dadN": 8.74e-9},
      {"series": "ESE(T), W = 38.1 mm, B = 5.08 mm", "dK": 9.20, "dadN": 9.65e-9},
      {"series": "ESE(T), W = 38.1 mm, B = 5.08 mm", "dK": 9.64, "dadN": 1.066e-8},
      {"series": "ESE(T), W = 38.1 mm, B = 5.08 mm", "dK": 10.08, "dadN": 1.211e-8},
      {"series": "ESE(T), W = 38.1 mm, B = 5.08 mm", "dK": 10.56, "dadN": 1.395e-8},
      {"series": "ESE(T), W = 38.1 mm, B = 5.08 mm", "dK": 11.07, "dadN": 1.608e-8},
      {"series": "ESE(T), W = 38.1 mm, B = 5.08 mm", "dK": 11.57, "dadN": 1.775e-8},
      {"series": "ESE(T), W = 38.1 mm, B = 5.08 mm", "dK": 12.09, "dadN": 1.960e-8},
      {"series": "ESE(T), W = 38.1 mm, B = 5.08 mm", "dK": 12.65, "dadN": 2.195e-8},
      {"series": "ESE(T), W = 38.1 mm, B = 5.08 mm", "dK": 13.22, "dadN": 2.425e-8},
      {"series": "ESE(T), W = 38.1 mm, B = 5.08 mm", "dK": 13.82, "dadN": 2.715e-8},
      {"series": "ESE(T), W = 38.1 mm, B = 5.08 mm", "dK": 14.45, "dadN": 3.129e-8},
      {"series": "ESE(T), W = 38.1 mm, B = 5.08 mm", "dK": 15.10, "dadN": 3.504e-8},
      {"series": "ESE(T), W = 38.1 mm, B = 5.08 mm", "dK": 15.78, "dadN": 4.038e-8},
      {"series": "ESE(T), W = 38.1 mm, B = 5.08 mm", "dK": 16.50, "dadN": 4.653e-8},
      {"series": "ESE(T), W = 38.1 mm, B = 5.08 mm", "dK": 17.30, "dadN": 5.138e-8},
      {"series": "ESE(T), W = 38.1 mm, B = 5.08 mm", "dK": 18.07, "dadN": 5.593e-8},
      {"series": "ESE(T), W = 38.1 mm, B = 5.08 mm", "dK": 18.90, "dadN": 6.004e-8},
      {"series": "ESE(T), W = 38.1 mm, B = 5.08 mm", "dK": 19.51, "dadN": 6.262e-8},
      {"series": "ESE(T), W = 38.1 mm, B = 5.08 mm", "dK": 19.90, "dadN": 6.538e-8}
    ]
  },
  "layer": [
    {
      "data": {"name": "pts"},
      "mark": {"type": "point", "filled": true, "opacity": 1, "stroke": "black", "strokeWidth": 1.3},
      "encoding": {
        "x": {
          "field": "dK", "type": "quantitative",
          "scale": {"type": "log", "domain": [2, 20], "nice": false},
          "axis": {
            "orient": "bottom",
            "title": "ΔK (MPa m¹/²)",
            "values": [2, 3, 4, 5, 6, 7, 8, 9, 10, 20],
            "labelExpr": "format(datum.value, 'd')",
            "labelFont": "Liberation Sans", "labelFontSize": 29, "labelFontWeight": "bold", "labelColor": "black",
            "labelBaseline": "alphabetic", "labelPadding": 45, "labelFlush": false, "labelOverlap": false,
            "tickSize": 8, "tickWidth": 2, "tickColor": "black",
            "domainColor": "black", "domainWidth": 2.5, "grid": false,
            "titleFont": "Liberation Sans", "titleFontSize": 29, "titleFontWeight": "bold", "titleColor": "black",
            "titleX": 467, "titleY": 120, "titleBaseline": "alphabetic", "titleAlign": "center"
          }
        },
        "y": {
          "field": "dadN", "type": "quantitative",
          "scale": {"type": "log", "domain": [1e-11, 1e-7], "nice": false},
          "axis": {
            "orient": "left",
            "title": "da/dN (meter/cycle)",
            "values": [1e-11, 2e-11, 3e-11, 4e-11, 5e-11, 6e-11, 7e-11, 8e-11, 9e-11, 1e-10, 2e-10, 3e-10, 4e-10, 5e-10, 6e-10, 7e-10, 8e-10, 9e-10, 1e-9, 2e-9, 3e-9, 4e-9, 5e-9, 6e-9, 7e-9, 8e-9, 9e-9, 1e-8, 2e-8, 3e-8, 4e-8, 5e-8, 6e-8, 7e-8, 8e-8, 9e-8, 1e-7],
            "labelExpr": "indexof([1e-11, 1e-10, 1e-9, 1e-8, 1e-7], datum.value) >= 0 ? '10' : ''",
            "labelFont": "Liberation Sans", "labelFontSize": 29, "labelFontWeight": "bold", "labelColor": "black",
            "labelBaseline": "middle", "labelPadding": 46, "labelOverlap": false,
            "tickSize": 9, "tickWidth": 2, "tickColor": "black",
            "tickOpacity": {"condition": {"test": "indexof([1e-11, 1e-10, 1e-9, 1e-8, 1e-7], datum.value) >= 0", "value": 1}, "value": 0},
            "domainColor": "black", "domainWidth": 2.5, "grid": false,
            "titleFont": "Liberation Sans", "titleFontSize": 29, "titleFontWeight": "bold", "titleColor": "black",
            "titleX": -155, "titleY": 282, "titleAngle": 270, "titleAlign": "center", "titleBaseline": "middle"
          }
        },
        "size": {
          "field": "series", "type": "nominal",
          "scale": {
            "domain": ["C(T), W = 76.2 mm, B = 12.7 mm", "C(T), W = 76.2 mm, B = 5.08 mm", "C(T), W = 50.8 mm, B = 5.08 mm", "C(T), W = 25.4 mm, B = 5.08 mm", "M(T), W = 76.2 mm, B = 5.08 mm", "M(T), W = 76.2 mm, B = 12.7 mm", "ESE(T), W = 38.1 mm, B = 5.08 mm"],
            "range": [285, 240, 215, 330, 260, 250, 225]
          },
          "legend": {
            "title": null, "orient": "none", "legendX": 555, "legendY": 250, "padding": 0,
            "labelFont": "Liberation Sans", "labelFontSize": 25.5, "labelFontWeight": "bold", "labelColor": "black",
            "labelOffset": 30, "labelLimit": 700, "rowPadding": 10,
            "symbolStrokeColor": "black", "symbolStrokeWidth": 1.3, "symbolOpacity": 1,
            "encode": {"symbols": {"update": {"stroke": {"value": "black"}, "strokeWidth": {"value": 1.3}, "opacity": {"value": 1}}}}
          }
        },
        "shape": {
          "field": "series", "type": "nominal",
          "scale": {
            "domain": ["C(T), W = 76.2 mm, B = 12.7 mm", "C(T), W = 76.2 mm, B = 5.08 mm", "C(T), W = 50.8 mm, B = 5.08 mm", "C(T), W = 25.4 mm, B = 5.08 mm", "M(T), W = 76.2 mm, B = 5.08 mm", "M(T), W = 76.2 mm, B = 12.7 mm", "ESE(T), W = 38.1 mm, B = 5.08 mm"],
            "range": ["circle", "triangle-down", "square", "diamond", "circle", "triangle-down", "square"]
          },
          "legend": {
            "title": null, "orient": "none", "legendX": 555, "legendY": 250, "padding": 0,
            "labelFont": "Liberation Sans", "labelFontSize": 25.5, "labelFontWeight": "bold", "labelColor": "black",
            "labelOffset": 30, "labelLimit": 700, "rowPadding": 10,
            "symbolStrokeColor": "black", "symbolStrokeWidth": 1.3, "symbolOpacity": 1,
            "encode": {"symbols": {"update": {"stroke": {"value": "black"}, "strokeWidth": {"value": 1.3}, "opacity": {"value": 1}}}}
          }
        },
        "fill": {
          "field": "series", "type": "nominal",
          "scale": {
            "domain": ["C(T), W = 76.2 mm, B = 12.7 mm", "C(T), W = 76.2 mm, B = 5.08 mm", "C(T), W = 50.8 mm, B = 5.08 mm", "C(T), W = 25.4 mm, B = 5.08 mm", "M(T), W = 76.2 mm, B = 5.08 mm", "M(T), W = 76.2 mm, B = 12.7 mm", "ESE(T), W = 38.1 mm, B = 5.08 mm"],
            "range": ["#000000", "#FF0000", "#00FF00", "#FFFF00", "#800000", "#FF8000", "#C0C000"]
          },
          "legend": {
            "title": null, "orient": "none", "legendX": 555, "legendY": 250, "padding": 0,
            "labelFont": "Liberation Sans", "labelFontSize": 25.5, "labelFontWeight": "bold", "labelColor": "black",
            "labelOffset": 30, "labelLimit": 700, "rowPadding": 10,
            "symbolStrokeColor": "black", "symbolStrokeWidth": 1.3, "symbolOpacity": 1,
            "encode": {"symbols": {"update": {"stroke": {"value": "black"}, "strokeWidth": {"value": 1.3}, "opacity": {"value": 1}}}}
          }
        }
      }
    },
    {
      "data": {"values": [{}]},
      "mark": {"type": "text", "text": "D6AC Steel", "align": "left", "baseline": "alphabetic", "font": "Liberation Sans", "fontSize": 30.5, "fontWeight": "bold", "color": "black"},
      "encoding": {
        "x": {"datum": 8.87, "type": "quantitative", "axis": {"orient": "bottom", "values": [2, 3, 4, 5, 6, 7, 8, 9, 10, 20], "labels": false, "domain": false, "title": null, "grid": false, "tickSize": -8, "tickWidth": 2, "tickColor": "black"}},
        "y": {"datum": 4.89e-11, "type": "quantitative", "axis": {"orient": "left", "values": [1e-11, 2e-11, 3e-11, 4e-11, 5e-11, 6e-11, 7e-11, 8e-11, 9e-11, 1e-10, 2e-10, 3e-10, 4e-10, 5e-10, 6e-10, 7e-10, 8e-10, 9e-10, 1e-9, 2e-9, 3e-9, 4e-9, 5e-9, 6e-9, 7e-9, 8e-9, 9e-9, 1e-8, 2e-8, 3e-8, 4e-8, 5e-8, 6e-8, 7e-8, 8e-8, 9e-8, 1e-7], "labels": false, "domain": false, "title": null, "grid": false, "tickWidth": 2, "tickColor": "black", "tickSize": {"condition": {"test": "indexof([1e-11, 1e-10, 1e-9, 1e-8, 1e-7], datum.value) >= 0", "value": -11}, "value": -8}}}
      }
    },
    {
      "data": {"values": [{}]},
      "mark": {"type": "text", "text": "L-T, K", "align": "left", "baseline": "alphabetic", "font": "Liberation Sans", "fontSize": 30.5, "fontWeight": "bold", "color": "black"},
      "encoding": {
        "x": {"datum": 8.87, "type": "quantitative", "axis": null},
        "y": {"datum": 2.813e-11, "type": "quantitative", "axis": {"orient": "left", "values": [1e-11, 1e-10, 1e-9, 1e-8, 1e-7], "ticks": false, "domain": false, "grid": false, "title": null, "labelExpr": "'-' + format(-log(datum.value) / LN10, '.0f')", "labelFont": "Liberation Sans", "labelFontSize": 18, "labelFontWeight": "bold", "labelColor": "black", "labelAlign": "left", "labelBaseline": "middle", "labelPadding": 55, "labelOffset": -7, "labelOverlap": false, "labelFlush": false}}
      }
    },
    {
      "data": {"values": [{}]},
      "mark": {"type": "text", "text": "max", "align": "left", "baseline": "alphabetic", "dx": 87, "dy": 10, "font": "Liberation Sans", "fontSize": 21, "fontWeight": "bold", "color": "black"},
      "encoding": {"x": {"datum": 8.87, "type": "quantitative", "axis": null}, "y": {"datum": 2.813e-11, "type": "quantitative", "axis": null}}
    },
    {
      "data": {"values": [{}]},
      "mark": {"type": "text", "text": "= 22 MPa m", "align": "left", "baseline": "alphabetic", "dx": 137, "font": "Liberation Sans", "fontSize": 30.5, "fontWeight": "bold", "color": "black"},
      "encoding": {"x": {"datum": 8.87, "type": "quantitative", "axis": null}, "y": {"datum": 2.813e-11, "type": "quantitative", "axis": null}}
    },
    {
      "data": {"values": [{}]},
      "mark": {"type": "text", "text": "1/2", "align": "left", "baseline": "alphabetic", "dx": 304, "dy": -14, "font": "Liberation Sans", "fontSize": 21, "fontWeight": "bold", "color": "black"},
      "encoding": {"x": {"datum": 8.87, "type": "quantitative", "axis": null}, "y": {"datum": 2.813e-11, "type": "quantitative", "axis": null}}
    },
    {
      "data": {"values": [{}]},
      "mark": {"type": "text", "text": "Room Temp., Lab Air", "align": "left", "baseline": "alphabetic", "font": "Liberation Sans", "fontSize": 30.5, "fontWeight": "bold", "color": "black"},
      "encoding": {"x": {"datum": 8.87, "type": "quantitative", "axis": null}, "y": {"datum": 1.466e-11, "type": "quantitative", "axis": null}}
    }
  ],
  "resolve": {"axis": {"x": "independent", "y": "independent"}}
}
